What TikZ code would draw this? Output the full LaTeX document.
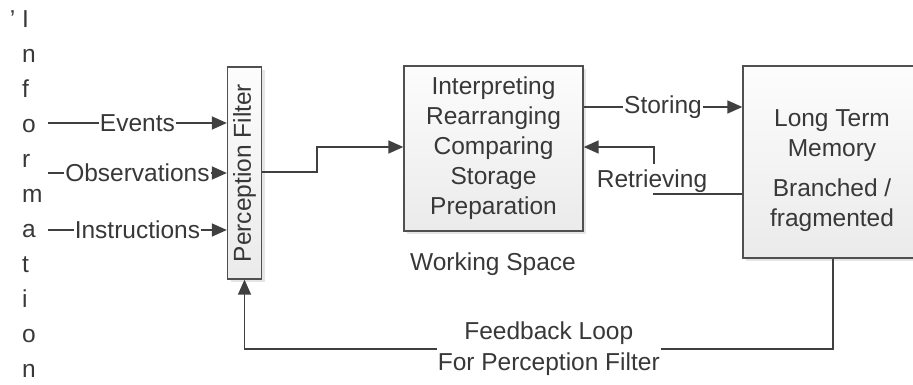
\documentclass[tikz,border=0pt]{standalone}
\usepackage{fontspec}
\setmainfont{Liberation Sans}
\usetikzlibrary{arrows.meta,shadows}
\definecolor{txtc}{HTML}{383838}
\definecolor{linec}{HTML}{404040}
\definecolor{boxc}{HTML}{505050}
\begin{document}
\begin{tikzpicture}[x=1pt,y=-1pt,
  every node/.style={font=\fontsize{24.5}{30}\selectfont, text=txtc},
  box/.style={draw=boxc, line width=1.3pt, top color=gray!2, bottom color=gray!16,
    drop shadow={shadow xshift=3pt,shadow yshift=-3pt,fill=gray!45,opacity=0.45}, inner sep=0pt},
  conn/.style={draw=linec, line width=1.5pt},
  arr/.style={conn, -{Triangle[length=15pt,width=13pt]}},
  lbl/.style={fill=white, inner xsep=1pt, inner ysep=0pt}]
\useasboundingbox (0,0) rectangle (913,385);
\clip (0,0) rectangle (913,385);

% vertical word
\node[align=left, anchor=north west, inner sep=0pt, font=\fontsize{24.5}{35}\selectfont] (info) at (22,10)
  {\llap{'\hspace{7pt}}I\\n\\f\\o\\r\\m\\a\\t\\i\\o\\n};

% boxes
\node[box, minimum width=34pt, minimum height=212pt] (pf) at (244.5,173) {\rotatebox{90}{Perception Filter}};
\node[box, minimum width=179pt, minimum height=165pt, align=center] (ws) at (493.5,148.5)
  {Interpreting\\Rearranging\\Comparing\\Storage\\Preparation};
\node[box, minimum width=180pt, minimum height=192pt] (ltm) at (833,162) {};
\node[align=center, inner sep=0pt] (ltmtxt) at (832,170.5) {Long Term\\Memory\\[10pt]Branched /\\fragmented};
\node[inner sep=0pt] (wslbl) at (493,264) {Working Space};

% inputs
\coordinate (e0) at (48,123);
\coordinate (o0) at (48,173);
\coordinate (i0) at (48,230);
\draw[arr] (e0) -- node[lbl]{Events} (e0 -| pf.west);
\draw[arr] (o0) -- node[lbl]{Observations} (o0 -| pf.west);
\draw[arr] (i0) -- node[lbl]{Instructions} (i0 -| pf.west);

% filter to working space
\coordinate (p1) at (317,172);
\coordinate (p2) at (317,147);
\draw[arr] (pf.east |- p1) -- (p1) -- (p2) -- (ws.west |- p2);

% storing
\coordinate (s0) at (583,107);
\draw[arr] (ws.east |- s0) -- node[lbl]{Storing} (ltm.west |- s0);

% retrieving
\coordinate (r0) at (654,194);
\coordinate (r1) at (654,147);
\draw[arr] (ltm.west |- r0) -- (r0) -- node[lbl, pos=0.34, xshift=-2pt, text height=24pt, text depth=5pt]{Retrieving} (r1) -- (ws.east |- r1);

% feedback loop
\coordinate (f0) at (833,349);
\coordinate (f1) at (244.5,349);
\draw[arr] (ltm.south) -- (f0) -- node[lbl, pos=0.483, align=center, font=\fontsize{24.5}{31}\selectfont]{Feedback Loop\\For Perception Filter} (f1) -- (pf.south);
\end{tikzpicture}
\end{document}
